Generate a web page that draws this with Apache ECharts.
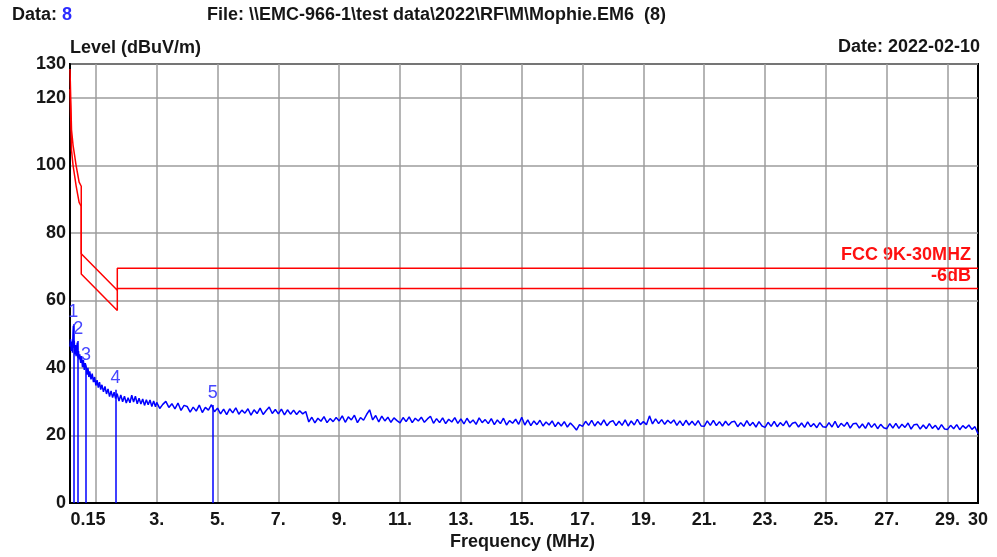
<!DOCTYPE html>
<html>
<head>
<meta charset="utf-8">
<script src="https://cdn.jsdelivr.net/npm/echarts@6/dist/echarts.min.js"></script>
<style>
  html, body { margin: 0; padding: 0; background: #fff; }
  #chart { width: 997px; height: 557px; }
</style>
</head>
<body>
<div id="chart"></div>
<script>
// 测量数据 (MHz, dBuV/m)
const traceFreq = [
  0.15, 0.17, 0.19, 0.21, 0.23, 0.25, 0.26, 0.27, 0.29, 0.31, 0.33, 0.35, 0.37, 0.39, 0.41, 0.43, 0.45, 0.47, 0.50, 0.53,
  0.56, 0.59, 0.62, 0.65, 0.68, 0.71, 0.74, 0.77, 0.80, 0.84, 0.88, 0.92, 0.96, 1.00, 1.04, 1.08, 1.12, 1.16, 1.20, 1.25,
  1.30, 1.35, 1.40, 1.45, 1.50, 1.55, 1.60, 1.65, 1.70, 1.76, 1.82, 1.88, 1.94, 2.00, 2.06, 2.12, 2.18, 2.24, 2.30, 2.36,
  2.42, 2.48, 2.54, 2.60, 2.66, 2.72, 2.78, 2.84, 2.90, 2.96,
  3.0, 3.1, 3.2, 3.3, 3.4, 3.5, 3.6, 3.7, 3.8, 3.9,
  4.0, 4.1, 4.2, 4.3, 4.4, 4.5, 4.6, 4.7, 4.8, 4.9,
  5.0, 5.1, 5.2, 5.3, 5.4, 5.5, 5.6, 5.7, 5.8, 5.9,
  6.0, 6.1, 6.2, 6.3, 6.4, 6.5, 6.6, 6.7, 6.8, 6.9,
  7.0, 7.1, 7.2, 7.3, 7.4, 7.5, 7.6, 7.7, 7.8, 7.9,
  8.0, 8.1, 8.2, 8.3, 8.4, 8.5, 8.6, 8.7, 8.8, 8.9,
  9.0, 9.1, 9.2, 9.3, 9.4, 9.5, 9.6, 9.7, 9.8, 9.9,
  10.0, 10.1, 10.2, 10.3, 10.4, 10.5, 10.6, 10.7, 10.8, 10.9,
  11.0, 11.1, 11.2, 11.3, 11.4, 11.5, 11.6, 11.7, 11.8, 11.9,
  12.0, 12.1, 12.2, 12.3, 12.4, 12.5, 12.6, 12.7, 12.8, 12.9,
  13.0, 13.1, 13.2, 13.3, 13.4, 13.5, 13.6, 13.7, 13.8, 13.9,
  14.0, 14.1, 14.2, 14.3, 14.4, 14.5, 14.6, 14.7, 14.8, 14.9,
  15.0, 15.1, 15.2, 15.3, 15.4, 15.5, 15.6, 15.7, 15.8, 15.9,
  16.0, 16.1, 16.2, 16.3, 16.4, 16.5, 16.6, 16.7, 16.8, 16.9,
  17.0, 17.1, 17.2, 17.3, 17.4, 17.5, 17.6, 17.7, 17.8, 17.9,
  18.0, 18.1, 18.2, 18.3, 18.4, 18.5, 18.6, 18.7, 18.8, 18.9,
  19.0, 19.1, 19.2, 19.3, 19.4, 19.5, 19.6, 19.7, 19.8, 19.9,
  20.0, 20.1, 20.2, 20.3, 20.4, 20.5, 20.6, 20.7, 20.8, 20.9,
  21.0, 21.1, 21.2, 21.3, 21.4, 21.5, 21.6, 21.7, 21.8, 21.9,
  22.0, 22.1, 22.2, 22.3, 22.4, 22.5, 22.6, 22.7, 22.8, 22.9,
  23.0, 23.1, 23.2, 23.3, 23.4, 23.5, 23.6, 23.7, 23.8, 23.9,
  24.0, 24.1, 24.2, 24.3, 24.4, 24.5, 24.6, 24.7, 24.8, 24.9,
  25.0, 25.1, 25.2, 25.3, 25.4, 25.5, 25.6, 25.7, 25.8, 25.9,
  26.0, 26.1, 26.2, 26.3, 26.4, 26.5, 26.6, 26.7, 26.8, 26.9,
  27.0, 27.1, 27.2, 27.3, 27.4, 27.5, 27.6, 27.7, 27.8, 27.9,
  28.0, 28.1, 28.2, 28.3, 28.4, 28.5, 28.6, 28.7, 28.8, 28.9,
  29.0, 29.1, 29.2, 29.3, 29.4, 29.5, 29.6, 29.7, 29.8, 29.9,
  30.0
]
const traceLevel = [
  46.3, 48.5, 45.0, 47.8, 44.5, 50.5, 52.5, 46.0, 48.0, 44.0, 46.8, 43.5, 45.5, 47.5, 43.0, 45.0, 42.5, 44.0, 41.5, 43.5,
  40.2, 42.3, 39.4, 41.4, 40.5, 38.0, 40.0, 37.3, 39.0, 36.6, 38.3, 35.8, 37.3, 34.8, 36.4, 34.2, 35.8, 33.6, 35.0, 32.9,
  34.5, 32.3, 33.8, 31.5, 33.2, 31.2, 32.8, 30.9, 32.4, 30.2, 32.0, 30.0, 31.6, 29.6, 31.2, 29.7, 31.9, 29.9, 31.6, 29.4,
  31.0, 29.3, 30.8, 28.9, 30.6, 29.1, 30.5, 28.6, 30.2, 28.5,
  29.8, 28.0, 29.2, 30.1, 28.3, 29.4, 27.9, 29.6, 27.4, 28.9,
  28.6, 26.9, 28.4, 27.2, 29.0, 26.8, 28.3, 27.5, 29.1, 27.0,
  28.1, 26.4, 27.8, 26.2, 27.9, 26.7, 28.2, 26.3, 27.5, 26.6,
  27.9, 26.0, 27.6, 26.5, 28.1, 26.2, 27.4, 28.4, 26.5, 27.7,
  26.4, 27.8, 26.1, 27.6, 26.3, 27.5, 26.2, 27.3, 26.4, 27.1,
  24.0, 25.4, 23.7, 25.1, 24.2, 25.6, 23.8, 25.0, 24.1, 25.3,
  24.3, 25.8, 23.9, 25.5, 24.6, 26.0, 23.8, 25.3, 24.5, 26.2,
  27.6, 24.6, 25.9, 24.0, 25.7, 24.3, 25.4, 23.9, 25.2, 24.4,
  23.7, 25.3, 24.1, 25.5, 23.8, 25.1, 24.3, 25.4, 23.9, 24.9,
  25.7, 23.6, 25.0, 23.8, 25.2, 23.5, 24.8, 24.0, 25.3, 23.6,
  24.9, 23.4, 25.1, 23.7, 24.6, 23.3, 25.2, 23.8, 24.7, 23.5,
  25.0, 23.2, 24.6, 23.5, 25.1, 23.1, 24.4, 23.6, 24.8, 23.3,
  25.4, 23.1, 24.6, 22.9, 24.3, 23.2, 24.5, 22.8, 24.0, 23.1,
  24.3, 22.6, 23.9, 22.8, 24.1, 22.5, 23.7, 22.7, 21.6, 23.2,
  22.7, 24.2, 23.0, 24.5, 22.8, 24.1, 23.1, 24.6, 22.9, 24.0,
  24.4, 22.9, 24.2, 23.0, 24.6, 22.8, 24.3, 23.1, 24.8, 23.2,
  24.1, 23.2, 25.8, 23.4, 24.9, 23.5, 24.7, 23.3, 24.5, 23.6,
  24.6, 23.0, 24.3, 22.9, 24.5, 23.1, 24.2, 23.0, 24.4, 22.8,
  22.7, 24.3, 23.0, 24.5, 22.9, 24.1, 22.8, 24.2, 23.0, 24.0,
  24.2, 22.6, 23.8, 22.7, 24.4, 22.9, 23.9, 22.5, 24.1, 22.8,
  22.4, 23.9, 22.7, 24.2, 22.6, 23.8, 22.9, 24.3, 22.5, 23.6,
  23.9, 22.5, 23.7, 22.4, 24.0, 22.6, 23.5, 22.3, 23.8, 22.6,
  22.4, 23.8, 22.5, 24.2, 22.3, 23.6, 22.7, 23.9, 22.2, 23.5,
  23.6, 22.2, 23.4, 22.1, 23.8, 22.4, 23.5, 22.0, 23.3, 22.3,
  22.0, 23.5, 22.2, 23.6, 22.1, 23.3, 22.4, 23.7, 21.9, 23.2,
  23.3, 21.9, 23.1, 22.0, 23.5, 22.1, 23.0, 21.7, 23.2, 21.9,
  21.8, 23.0, 22.0, 23.2, 21.7, 22.9, 22.1, 23.1, 21.8, 22.6,
  20.5
]

// 限值线
const limitFreq = [0.15, 0.2, 0.25, 0.3, 0.35, 0.4, 0.45, 0.52, 0.52, 1.705, 1.705, 30]
const limitLevel = [128.5, 110.5, 106, 103, 100, 97.5, 95, 93.8, 73.8, 63, 69.5, 69.5]
const marginLevel = [122.5, 104.5, 100, 97, 94, 91.5, 89, 87.8, 67.8, 57, 63.5, 63.5]

// 峰值标记
const markerNo = ['1', '2', '3', '4', '5']
const markerFreq = [0.26, 0.42, 0.68, 1.65, 4.84]
const markerLevel = [53, 48, 40.3, 33.5, 29]

// 坐标轴刻度
const xLabelValues = [0.15, 3, 5, 7, 9, 11, 13, 15, 17, 19, 21, 23, 25, 27, 29, 30]
const xGridValues = [1, 3, 5, 7, 9, 11, 13, 15, 17, 19, 21, 23, 25, 27, 29]

const zip = (a, b) => a.map((v, i) => [v, b[i]])

const font = 'Liberation Sans, Arial, sans-serif'
const textColor = '#161616'

const chart = echarts.init(document.getElementById('chart'))

chart.setOption({
  animation: false,
  backgroundColor: '#fff',
  grid: {
    left: 70, right: 19, top: 64, bottom: 54,
    show: true, borderColor: '#000', borderWidth: 2
  },
  graphic: [
    {
      type: 'text', left: 12, top: 6,
      style: {
        text: '{k|Data: }{v|8}',
        rich: {
          k: { fontFamily: font, fontSize: 18, fontWeight: 'bold', fill: textColor },
          v: { fontFamily: font, fontSize: 18, fontWeight: 'bold', fill: '#2b2bff' }
        }
      }
    },
    {
      type: 'text', left: 207, top: 6,
      style: {
        text: 'File: \\\\EMC-966-1\\test data\\2022\\RF\\M\\Mophie.EM6  (8)',
        fontFamily: font, fontSize: 18, fontWeight: 'bold', fill: textColor
      }
    },
    {
      type: 'text', right: 17, top: 38,
      style: { text: 'Date: 2022-02-10', fontFamily: font, fontSize: 18, fontWeight: 'bold', fill: textColor }
    },
    {
      type: 'text', left: 70, top: 39,
      style: { text: 'Level (dBuV/m)', fontFamily: font, fontSize: 18, fontWeight: 'bold', fill: textColor }
    },
    {
      type: 'text', left: 450, top: 533,
      style: { text: 'Frequency (MHz)', fontFamily: font, fontSize: 18, fontWeight: 'bold', fill: textColor }
    },
    {
      type: 'text', right: 26, top: 246,
      style: { text: 'FCC 9K-30MHZ', fontFamily: font, fontSize: 18, fontWeight: 'bold', fill: '#ff1010' }
    },
    {
      type: 'text', right: 26, top: 267,
      style: { text: '-6dB', fontFamily: font, fontSize: 18, fontWeight: 'bold', fill: '#ff1010' }
    }
  ],
  xAxis: {
    type: 'value',
    min: 0.15,
    max: 30,
    axisLine: { onZero: false, lineStyle: { color: '#000', width: 2 } },
    axisTick: { show: false, customValues: xGridValues },
    splitLine: { show: true, lineStyle: { color: '#9c9c9c', width: 1.5 } },
    axisLabel: {
      customValues: xLabelValues,
      margin: 8,
      fontFamily: font, fontSize: 18, fontWeight: 'bold', color: textColor,
      formatter: (v) => {
        if (v === 0.15) return '{a|0.15}'
        if (v === 30) return '30'
        return v + '.'
      },
      rich: {
        a: { fontFamily: font, fontSize: 18, fontWeight: 'bold', color: textColor, padding: [0, 0, 0, 36] }
      }
    }
  },
  yAxis: {
    type: 'value',
    min: 0,
    max: 130,
    interval: 20,
    axisLine: { show: true, lineStyle: { color: '#000', width: 2 } },
    axisTick: { show: false },
    splitLine: { show: true, lineStyle: { color: '#9c9c9c', width: 1.5 } },
    axisLabel: {
      margin: 4,
      fontFamily: font, fontSize: 18, fontWeight: 'bold', color: textColor
    }
  },
  series: [
    {
      name: 'FCC 9K-30MHZ',
      type: 'line',
      data: zip(limitFreq, limitLevel),
      symbol: 'none',
      lineStyle: { color: '#ff0000', width: 1.5 },
      z: 3
    },
    {
      name: '-6dB',
      type: 'line',
      data: zip(limitFreq, marginLevel),
      symbol: 'none',
      lineStyle: { color: '#ff0000', width: 1.5 },
      z: 3
    },
    {
      name: 'Level',
      type: 'line',
      data: zip(traceFreq, traceLevel),
      symbol: 'none',
      lineStyle: { color: '#0000ff', width: 1.5 },
      z: 4,
      markLine: {
        silent: true,
        symbol: 'none',
        lineStyle: { color: '#0000ff', width: 1.5, type: 'solid' },
        label: {
          show: true,
          position: 'end',
          distance: 3,
          formatter: '{b}',
          fontFamily: font, fontSize: 18, color: '#4646ff'
        },
        data: markerNo.map((n, i) => [
          { name: n, coord: [markerFreq[i], 0] },
          { coord: [markerFreq[i], markerLevel[i]] }
        ])
      }
    }
  ]
})

window.addEventListener('resize', () => {
  chart.resize()
})
</script>
</body>
</html>
